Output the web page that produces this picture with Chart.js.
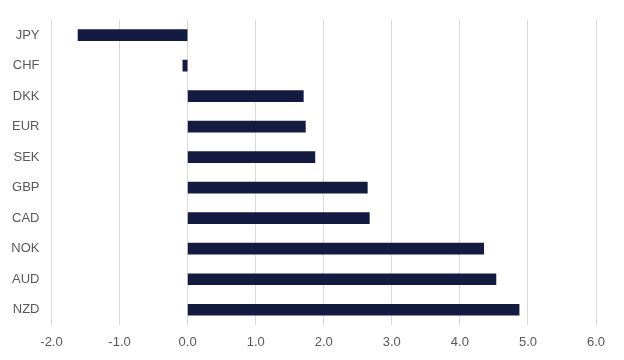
<!DOCTYPE html>
<html>
<head>
<meta charset="utf-8">
<script src="https://cdn.jsdelivr.net/npm/chart.js@4"></script>
<style>
  html, body { margin: 0; padding: 0; background: #ffffff; }
  #wrap { width: 624px; height: 360px; }
</style>
</head>
<body>
<div id="wrap"><canvas id="fxChart" width="624" height="360"></canvas></div>
<script>
// currencies, top to bottom
const currencies = ['JPY', 'CHF', 'DKK', 'EUR', 'SEK', 'GBP', 'CAD', 'NOK', 'AUD', 'NZD'];
// values
const values = [-1.61, -0.07, 1.70, 1.73, 1.87, 2.64, 2.67, 4.35, 4.53, 4.87];
// x axis range and step
const xMin = -2;
const xMax = 6;
const xStep = 1;

const ctx = document.getElementById('fxChart').getContext('2d');

new Chart(ctx, {
    type: 'bar',
    data: {
        labels: currencies,
        datasets: [{
            data: values,
            backgroundColor: '#131c40',
            borderWidth: 0,
            barThickness: 11
        }]
    },
    options: {
        indexAxis: 'y',
        responsive: false,
        animation: false,
        layout: { padding: { top: 17, right: 28, left: 0, bottom: 0 } },
        plugins: {
            legend: { display: false },
            tooltip: { enabled: false }
        },
        scales: {
            x: {
                min: xMin, max: xMax,
                ticks: {
                    stepSize: xStep,
                    color: '#595959',
                    font: { family: 'Liberation Sans, Arial', size: 13 },
                    padding: 10,
                    callback: v => v.toFixed(1)
                },
                grid: { color: '#d9d9d9', lineWidth: 1, drawTicks: false },
                border: { display: false },
                afterFit: axis => { axis.height = 35; }
            },
            y: {
                ticks: {
                    color: '#595959',
                    font: { family: 'Liberation Sans, Arial', size: 13 },
                    padding: 12
                },
                grid: { display: false, drawTicks: false },
                border: { display: false },
                afterFit: axis => { axis.width = 51.5; }
            }
        }
    }
});
</script>
</body>
</html>
